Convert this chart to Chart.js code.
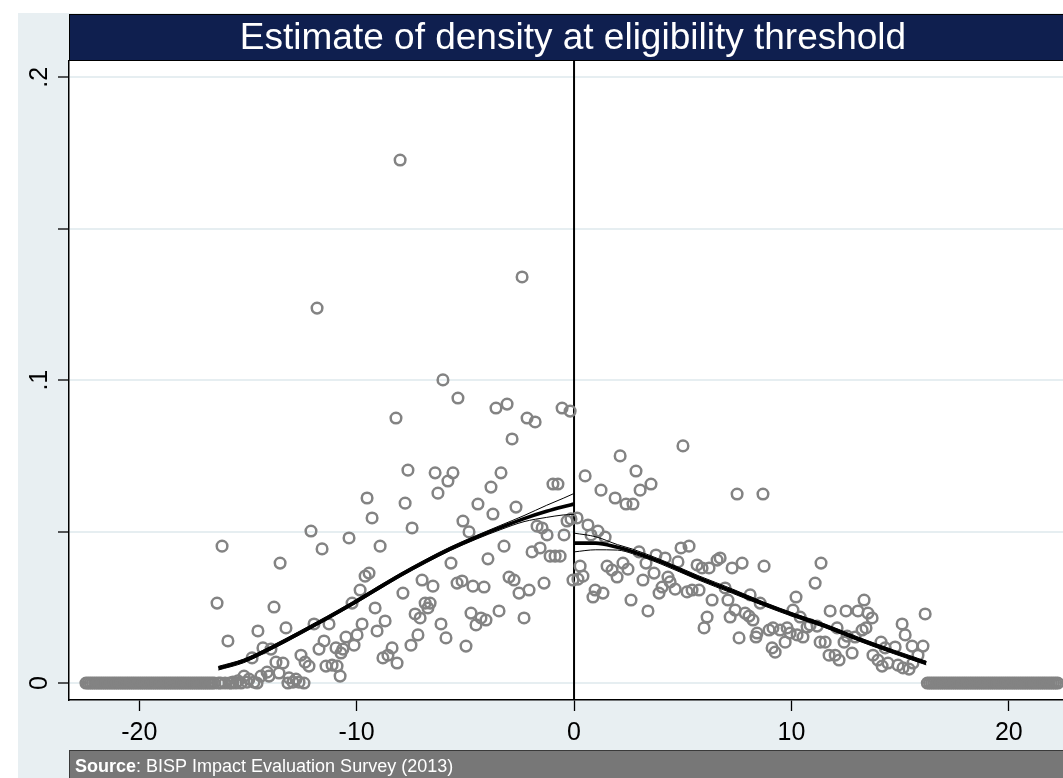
<!DOCTYPE html>
<html>
<head>
<meta charset="utf-8">
<title>Estimate of density at eligibility threshold</title>
<script src="https://cdn.jsdelivr.net/npm/chart.js@4/dist/chart.umd.min.js"></script>
<style>
  html, body { margin: 0; padding: 0; background: #ffffff; }
  canvas { display: block; }
</style>
</head>
<body>
<canvas id="density" width="1063" height="778"></canvas>
<script>
// ---- Binned density of the poverty score, left of the cutoff ----
const leftBinX = [-8.00,-11.82,-2.39,-6.03,-5.34,-8.19,-3.59,-3.08,-2.16,-1.79,-2.85,-0.55,-0.18,
  -7.64,-6.39,-5.57,-5.80,-3.36,-3.82,-6.26,-0.97,-0.74,-7.77,
  -4.42,-2.67,-3.73,-7.45,-5.11,-4.83,-1.70,-1.47,-1.24,-0.32,
  -0.14,-0.46,-3.22,-1.93,-1.56,-1.10,-0.87,-0.64,-3.96,-5.66,
  -2.99,-2.76,-6.99,-6.49,-5.38,-5.15,-4.65,-4.14,-1.38,-0.05,
  -2.53,-2.07,-7.87,-6.85,-6.62,-6.72,-7.31,-7.08,-4.74,-4.51,
  -4.28,-4.05,-3.45,-2.30,-6.12,-7.18,-7.50,-5.89,-4.97,-8.37,
  -8.14,-8.56,-8.79,
  -9.52,-9.29,-12.10,-10.35,-16.19,-11.59,-8.92,-13.52,-9.61,-9.43,
  -9.84,-16.42,-13.80,-10.21,-9.15,-8.69,-11.96,-11.27,-9.75,-14.54,
  -13.25,-9.06,-15.92,-9.98,-10.49,-11.50,-10.12,-14.31,-13.94,-11.73,
  -10.95,-10.63,-10.72,-14.81,-12.56,-13.71,-13.39,-12.37,-12.19,-11.41,
  -11.13,-10.90,-15.18,-14.12,-14.03,-14.40,-13.57,-10.76,-14.95,-14.72,
  -14.58,-13.11,-12.79,-12.93,-12.65,-12.42,-13.16,-15.69,-15.46,-15.32,
  -15.04];
const leftBinY = [0.1727,0.1238,0.1341,0.1001,0.0941,0.0875,0.0908,0.0921,0.0875,0.0862,0.0806,0.0908,0.0898,
  0.0703,0.0694,0.0694,0.0667,0.0694,0.0647,0.0627,0.0657,0.0657,0.0594,
  0.0591,0.0581,0.0558,0.0512,0.0535,0.0499,0.0518,0.0512,0.0489,0.0535,
  0.0542,0.0489,0.0452,0.0433,0.0446,0.0419,0.0419,0.0419,0.0410,0.0396,
  0.0350,0.0340,0.0340,0.0320,0.0330,0.0337,0.0320,0.0317,0.0330,0.0340,
  0.0297,0.0307,0.0297,0.0264,0.0264,0.0248,0.0228,0.0215,0.0231,0.0192,
  0.0215,0.0208,0.0238,0.0215,0.0195,0.0159,0.0125,0.0149,0.0122,0.0116,
  0.0066,0.0092,0.0083,
  0.0611,0.0545,0.0502,0.0479,0.0452,0.0443,0.0452,0.0396,0.0353,0.0363,
  0.0307,0.0264,0.0251,0.0264,0.0248,0.0205,0.0195,0.0195,0.0195,0.0172,
  0.0182,0.0172,0.0139,0.0159,0.0152,0.0139,0.0125,0.0116,0.0112,0.0112,
  0.0116,0.0112,0.0099,0.0083,0.0092,0.0069,0.0066,0.0069,0.0056,0.0056,
  0.0059,0.0056,0.0023,0.0036,0.0023,0.0023,0.0033,0.0023,0.0013,0.0003,
  0.0000,0.0017,0.0013,0.0003,0.0003,0.0000,0.0000,0.0003,0.0007,0.0000,
  0.0003];

// ---- Binned density, right of the cutoff ----
const rightBinX = [5.01,2.12,2.85,0.51,3.54,3.04,1.24,1.89,2.39,2.71,
  7.50,8.69,0.14,0.64,1.10,1.43,0.78,0.28,0.18,0.41,
  1.52,1.75,2.25,2.48,1.98,2.99,3.31,3.77,4.19,0.97,
  1.33,0.87,2.62,3.40,3.17,3.68,3.91,4.05,4.32,4.42,
  4.65,4.78,4.92,5.29,5.20,5.43,5.75,5.66,5.89,6.21,
  6.58,6.72,7.27,7.73,8.74,6.35,6.12,5.98,6.95,7.08,
  7.18,7.41,7.59,8.10,7.87,8.05,8.23,8.42,8.37,8.56,
  8.97,9.15,9.48,9.80,9.94,9.71,9.11,9.25,10.21,10.07,
  10.40,11.09,11.36,10.26,10.53,10.72,10.86,11.18,11.32,11.55,
  13.34,11.78,12.51,13.06,13.52,13.71,12.10,11.73,12.01,12.19,
  12.42,12.79,12.56,12.93,13.25,13.43,14.12,14.31,13.75,13.98,
  14.17,14.44,14.77,14.90,15.09,15.23,15.55,16.05,15.41,15.59,
  15.82,16.15,15.13];
const rightBinY = [0.0783,0.0750,0.0700,0.0684,0.0657,0.0637,0.0637,0.0611,0.0591,0.0591,
  0.0624,0.0624,0.0545,0.0522,0.0502,0.0482,0.0489,0.0386,0.0343,0.0353,
  0.0386,0.0373,0.0396,0.0376,0.0350,0.0433,0.0396,0.0423,0.0413,0.0307,
  0.0297,0.0284,0.0274,0.0238,0.0340,0.0363,0.0297,0.0317,0.0350,0.0334,
  0.0310,0.0400,0.0446,0.0452,0.0301,0.0307,0.0307,0.0390,0.0380,0.0380,
  0.0406,0.0413,0.0380,0.0396,0.0386,0.0274,0.0218,0.0182,0.0314,0.0274,
  0.0218,0.0241,0.0149,0.0291,0.0231,0.0221,0.0208,0.0165,0.0152,0.0264,
  0.0175,0.0182,0.0175,0.0182,0.0165,0.0135,0.0116,0.0102,0.0284,0.0241,
  0.0218,0.0330,0.0396,0.0159,0.0152,0.0185,0.0192,0.0188,0.0135,0.0135,
  0.0274,0.0238,0.0238,0.0238,0.0231,0.0215,0.0182,0.0092,0.0092,0.0076,
  0.0135,0.0099,0.0155,0.0152,0.0175,0.0182,0.0135,0.0116,0.0092,0.0076,
  0.0056,0.0066,0.0119,0.0059,0.0195,0.0159,0.0122,0.0122,0.0046,0.0066,
  0.0092,0.0228,0.0050];

// ---- Bins outside the support: density is zero there ----
const emptyBinsLeft = [-22.45,-22.35,-22.25,-22.15,-22.05,-21.95,-21.85,-21.75,-21.65,-21.55,
  -21.45,-21.35,-21.25,-21.15,-21.05,-20.95,-20.85,-20.75,-20.65,-20.55,
  -20.45,-20.35,-20.25,-20.15,-20.05,-19.95,-19.85,-19.75,-19.65,-19.55,
  -19.45,-19.35,-19.25,-19.15,-19.05,-18.95,-18.85,-18.75,-18.65,-18.55,
  -18.45,-18.35,-18.25,-18.15,-18.05,-17.95,-17.85,-17.75,-17.65,-17.55,
  -17.45,-17.35,-17.25,-17.15,-17.05,-16.95,-16.85,-16.75,-16.65,-16.55,
  -16.35,-16.25,-16.05,-15.85,-15.75,-15.55];
const emptyBinsRight = [16.25,16.35,16.45,16.55,16.65,16.75,16.85,16.95,17.05,17.15,
  17.25,17.35,17.45,17.55,17.65,17.75,17.85,17.95,18.05,18.15,
  18.25,18.35,18.45,18.55,18.65,18.75,18.85,18.95,19.05,19.15,
  19.25,19.35,19.45,19.55,19.65,19.75,19.85,19.95,20.05,20.15,
  20.25,20.35,20.45,20.55,20.65,20.75,20.85,20.95,21.05,21.15,
  21.25,21.35,21.45,21.55,21.65,21.75,21.85,21.95,22.05,22.15,22.25];

// ---- Local linear density fit with 95% bands ----
const fitLeftX     = [-16.36, -15.2, -13.9, -12.6, -11.4, -10.2, -9.2, -8.0, -6.8, -5.7, -4.5, -3.4, -2.3, -1.26, -0.5, 0];
const fitLeftY     = [0.0049, 0.0073, 0.0117, 0.0166, 0.0213, 0.0262, 0.0305, 0.0356, 0.0403, 0.0443, 0.0481, 0.0513, 0.0543, 0.0567, 0.0582, 0.0591];
const fitLeftHigh  = [0.0055, 0.0079, 0.0123, 0.0172, 0.0219, 0.0268, 0.0311, 0.0362, 0.0409, 0.0449, 0.0487, 0.0520, 0.0553, 0.0587, 0.0610, 0.0626];
const fitLeftLow   = [0.0043, 0.0067, 0.0111, 0.0160, 0.0207, 0.0256, 0.0299, 0.0350, 0.0397, 0.0437, 0.0475, 0.0506, 0.0533, 0.0547, 0.0555, 0.0557];

const fitRightX    = [0, 1.0, 2.0, 2.7, 4.0, 5.7, 7.3, 8.7, 10.2, 11.5, 13.2, 14.7, 16.2];
const fitRightY    = [0.0462, 0.0462, 0.0448, 0.0434, 0.0400, 0.0348, 0.0303, 0.0262, 0.0222, 0.0190, 0.0142, 0.0103, 0.0066];
const fitRightHigh = [0.0495, 0.0483, 0.0457, 0.0442, 0.0407, 0.0355, 0.0310, 0.0268, 0.0228, 0.0196, 0.0148, 0.0109, 0.0072];
const fitRightLow  = [0.0433, 0.0440, 0.0439, 0.0427, 0.0393, 0.0341, 0.0296, 0.0256, 0.0216, 0.0184, 0.0136, 0.0097, 0.0060];

// ---- Axes and text ----
const cutoff = 0;
const xTicks = [-20, -10, 0, 10, 20];
const yTicks = [0, 0.05, 0.1, 0.15, 0.2];
const yTickLabels = [[0, '0'], [0.1, '.1'], [0.2, '.2']];
const titleText = 'Estimate of density at eligibility threshold';
const sourceLead = 'Source';
const sourceRest = ': BISP Impact Evaluation Survey (2013)';

const FONT = '"Liberation Sans", Arial, Helvetica, sans-serif';
const zip = (xs, ys) => xs.map((x, i) => ({ x, y: ys[i] }));

const circleStyle = {
  showLine: false,
  pointStyle: 'circle',
  pointRadius: 5.3,
  pointBorderWidth: 2.5,
  pointBorderColor: '#838383',
  pointBackgroundColor: 'rgba(0,0,0,0)',
  order: 10
};
const curve = (pts, width) => ({
  data: pts,
  showLine: true,
  pointRadius: 0,
  borderColor: '#000000',
  borderWidth: width,
  cubicInterpolationMode: 'monotone',
  fill: false,
  order: 1
});

const frame = {
  id: 'frame',
  beforeDraw(chart) {
    const { ctx, chartArea: a, width, height } = chart;
    ctx.save();
    ctx.fillStyle = '#ffffff';
    ctx.fillRect(0, 0, width, height);
    ctx.fillStyle = '#e8eff2';
    ctx.fillRect(18, 13, width - 18, height - 13);
    ctx.fillStyle = '#ffffff';
    ctx.fillRect(a.left, a.top, a.right - a.left, a.bottom - a.top);
    ctx.restore();
  },
  beforeDatasetsDraw(chart) {
    const { ctx, chartArea: a, scales: { x } } = chart;
    const px = x.getPixelForValue(cutoff);
    ctx.save();
    ctx.strokeStyle = '#000000';
    ctx.lineWidth = 2;
    ctx.beginPath();
    ctx.moveTo(px, a.top);
    ctx.lineTo(px, a.bottom);
    ctx.stroke();
    ctx.restore();
  },
  afterDraw(chart) {
    const { ctx, chartArea: a, width, height, scales: { y } } = chart;
    ctx.save();

    // title band
    ctx.fillStyle = '#0f1f4f';
    ctx.fillRect(a.left, 14, width - a.left, a.top - 14);
    ctx.strokeStyle = '#000000';
    ctx.lineWidth = 1;
    ctx.strokeRect(a.left + 0.5, 14.5, width - a.left, a.top - 15);
    ctx.fillStyle = '#ffffff';
    ctx.font = `37px ${FONT}`;
    ctx.textAlign = 'center';
    ctx.textBaseline = 'alphabetic';
    ctx.fillText(titleText, 573, 49);

    // rotated y tick labels
    ctx.fillStyle = '#000000';
    ctx.font = `25px ${FONT}`;
    ctx.textAlign = 'center';
    ctx.textBaseline = 'middle';
    yTickLabels.forEach(([v, s]) => {
      ctx.save();
      ctx.translate(40, y.getPixelForValue(v));
      ctx.rotate(-Math.PI / 2);
      ctx.fillText(s, 0, 0);
      ctx.restore();
    });

    // source note band
    const top = 750;
    ctx.fillStyle = '#777777';
    ctx.fillRect(a.left, top, width - a.left, height - top);
    ctx.strokeStyle = '#3a3a3a';
    ctx.beginPath();
    ctx.moveTo(a.left, top + 0.5);
    ctx.lineTo(width, top + 0.5);
    ctx.moveTo(a.left + 0.5, top);
    ctx.lineTo(a.left + 0.5, height);
    ctx.stroke();
    ctx.fillStyle = '#ffffff';
    ctx.textAlign = 'left';
    ctx.textBaseline = 'alphabetic';
    ctx.font = `bold 18px ${FONT}`;
    ctx.fillText(sourceLead, 75, 772);
    const w = ctx.measureText(sourceLead).width;
    ctx.font = `18px ${FONT}`;
    ctx.fillText(sourceRest, 75 + w, 772);

    ctx.restore();
  }
};

new Chart(document.getElementById('density'), {
  type: 'scatter',
  data: {
    datasets: [
      Object.assign({ data: zip(leftBinX, leftBinY) }, circleStyle),
      Object.assign({ data: zip(rightBinX, rightBinY) }, circleStyle),
      Object.assign({ data: emptyBinsLeft.map(x => ({ x, y: 0 })) }, circleStyle),
      Object.assign({ data: emptyBinsRight.map(x => ({ x, y: 0 })) }, circleStyle),
      curve(zip(fitLeftX, fitLeftHigh), 1),
      curve(zip(fitLeftX, fitLeftLow), 1),
      curve(zip(fitLeftX, fitLeftY), 3.6),
      curve(zip(fitRightX, fitRightHigh), 1),
      curve(zip(fitRightX, fitRightLow), 1),
      curve(zip(fitRightX, fitRightY), 3.6)
    ]
  },
  options: {
    responsive: false,
    animation: false,
    events: [],
    devicePixelRatio: 1,
    layout: { autoPadding: false, padding: { top: 61, bottom: 28, left: 0, right: 0 } },
    plugins: { legend: { display: false }, tooltip: { enabled: false }, title: { display: false } },
    scales: {
      x: {
        type: 'linear',
        min: -23.23,
        max: 22.49,
        afterBuildTicks: s => { s.ticks = xTicks.map(v => ({ value: v })); },
        afterFit: s => { s.height = 50; s.paddingLeft = 0; s.paddingRight = 0; },
        grid: { drawOnChartArea: false, drawTicks: true, tickLength: 11, tickColor: '#000000', tickWidth: 1.3 },
        border: { display: true, color: '#000000', width: 1.5 },
        ticks: {
          color: '#000000',
          font: { family: FONT, size: 25 },
          padding: 7,
          maxRotation: 0,
          autoSkip: false,
          callback: v => String(v)
        }
      },
      y: {
        type: 'linear',
        min: -0.0056,
        max: 0.2054,
        afterBuildTicks: s => { s.ticks = yTicks.map(v => ({ value: v })); },
        afterFit: s => { s.width = 69; s.paddingTop = 0; s.paddingBottom = 0; },
        grid: { color: '#e6eef1', lineWidth: 2, drawTicks: true, tickLength: 11, tickColor: '#000000', tickWidth: 1.3 },
        border: { display: true, color: '#000000', width: 1.5 },
        ticks: { display: false }
      }
    }
  },
  plugins: [frame]
});
</script>
</body>
</html>
